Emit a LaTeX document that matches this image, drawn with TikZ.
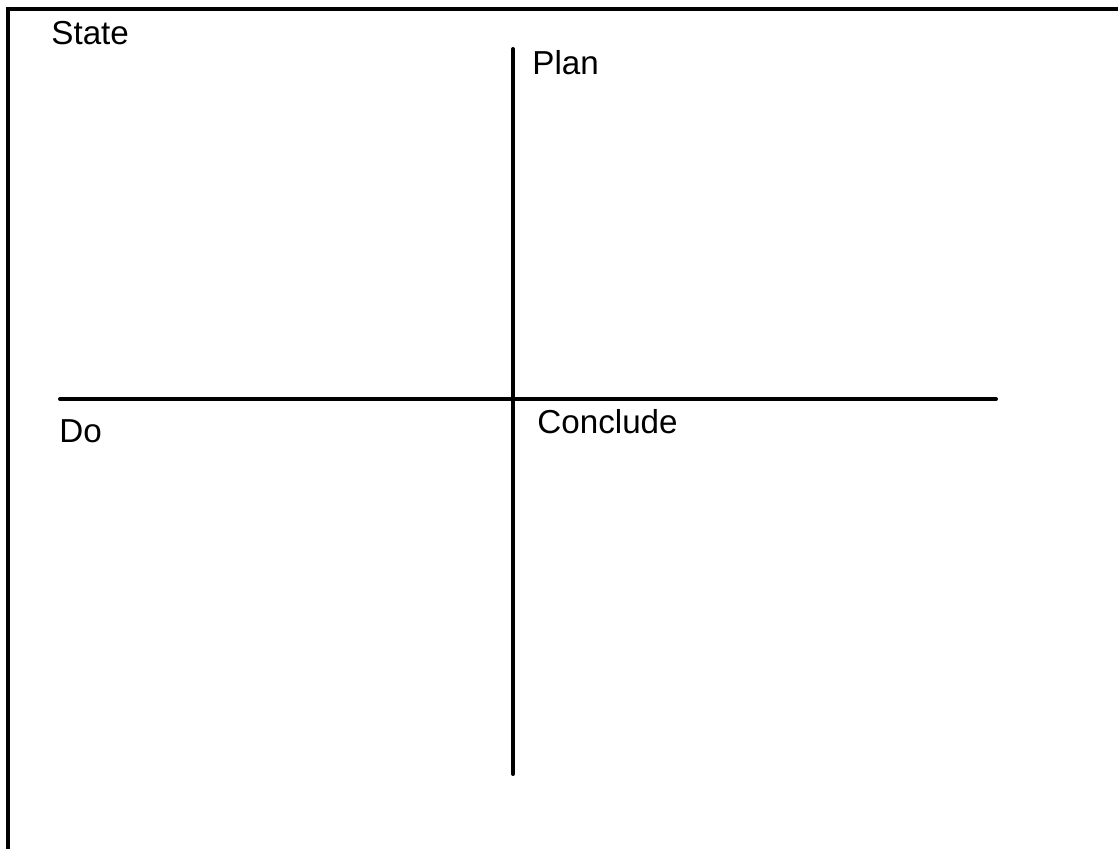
\documentclass[tikz,border=0pt]{standalone}
\usepackage{fontspec}
\setmainfont{Liberation Sans}
\begin{document}
\begin{tikzpicture}[x=0.5pt,y=-0.5pt,
  axis/.style={line width=2pt,line cap=round},
  frame/.style={line width=1.6pt},
  lbl/.style={anchor=base west,inner sep=0pt,font=\fontsize{16.6}{19}\selectfont}]
\useasboundingbox (0,0) rectangle (1118,849);
% frame (only top and left edges visible)
\coordinate (ftr) at (1120,9);
\coordinate (ftl) at (8,9);
\coordinate (fbl) at (8,851);
\draw[frame] (ftr) -- (ftl) -- (fbl);
% axes
\coordinate (vt) at (513,49);
\coordinate (vb) at (513,774);
\coordinate (hl) at (60,399);
\coordinate (hr) at (996,399);
\draw[axis] (vt) -- (vb);
\draw[axis] (hl) -- (hr);
% labels
\node[lbl] (state) at (51,45) {State};
\node[lbl] (plan) at (532,75) {Plan};
\node[lbl] (conclude) at (537,434) {Conclude};
\node[lbl] (do) at (59,443) {Do};
\end{tikzpicture}
\end{document}
